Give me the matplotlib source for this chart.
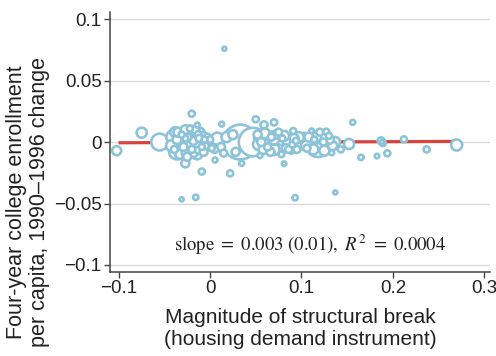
import matplotlib
matplotlib.use("Agg")
import matplotlib.pyplot as plt
import numpy as np

plt.rcParams["font.family"] = ["Liberation Sans", "DejaVu Sans"]
plt.rcParams["mathtext.fontset"] = "stix"

# metro areas: structural break magnitude, enrollment change, population weight
brk = [
    -0.102, -0.0747, -0.055, -0.040, -0.036, -0.020, -0.0139, -0.027, -0.009,
    0.022, 0.0055, 0.0346, 0.0128, 0.033, 0.047, 0.050, 0.059, 0.070, 0.0546,
    0.078, 0.081, 0.091, 0.089, -0.031, -0.0156, 0.093, 0.137, 0.0157, 0.111,
    0.118, 0.127, 0.1366, 0.152, 0.143, 0.133, 0.156, 0.187, 0.189, 0.188,
    0.212, 0.2696, 0.2368, 0.1938, 0.1825, 0.165,
    -0.030, -0.025, -0.020, -0.015, -0.010, -0.028, -0.022, -0.018, -0.012,
    -0.008, -0.033, -0.025, -0.016, -0.005, -0.003, -0.035, 0.002, 0.000,
    0.008, 0.005,
    0.055, 0.062, 0.068, 0.073, 0.078, 0.085, 0.092, 0.100, 0.105, 0.058,
    0.066, 0.075, 0.083, 0.095, 0.052,
    0.108, 0.113, 0.122, 0.128, 0.131,
    -0.042, -0.038, -0.032, -0.027, -0.023, -0.019, -0.014, -0.011, -0.007,
    -0.030, -0.021, -0.004, -0.017, -0.026,
    0.053, 0.060, 0.064, 0.070, 0.076, 0.081, 0.088, 0.097, 0.070,
    0.103, 0.110, 0.116, 0.125, 0.134, 0.120,
    0.012, 0.018, 0.015, 0.025, 0.028,
    -0.036, -0.029, -0.024, -0.018, -0.013, -0.009, -0.031, -0.020, -0.015,
    -0.006, -0.039, -0.027, -0.012, -0.022,
    0.056, 0.063, 0.072, 0.079, 0.086, 0.094, 0.067, 0.090,
    0.106, 0.114, 0.124, 0.130,
]
enroll = [
    -0.007, 0.0076, 0.000, 0.004, -0.0076, 0.023, 0.0138, -0.0173, -0.024,
    -0.0255, -0.0146, -0.0173, 0.0146, 0.000, 0.000, 0.0185, 0.014, 0.016, -0.011,
    -0.010, -0.0176, 0.009, -0.0065, -0.0466, -0.045, -0.0453, -0.041, 0.0759, 0.0092,
    -0.0025, 0.0084, 0.000, -0.0016, -0.006, -0.0087, 0.016, 0.001, -0.001, 0.000,
    0.0022, -0.0024, -0.006, -0.0092, -0.0114, -0.0125,
    0.005, 0.008, 0.006, 0.003, 0.000, -0.002, -0.004, -0.008, -0.006,
    0.005, -0.010, -0.012, 0.010, -0.003, 0.004, 0.008, -0.005, 0.002,
    0.0027, -0.006,
    0.003, -0.002, 0.004, -0.004, 0.002, 0.000, 0.003, 0.000, -0.003, -0.006,
    -0.008, 0.008, -0.005, -0.006, 0.006,
    0.004, -0.006, 0.003, -0.004, 0.002,
    -0.003, 0.008, 0.000, 0.010, 0.002, -0.002, -0.010, 0.008, -0.008,
    -0.007, 0.009, 0.000, 0.005, -0.009,
    -0.002, 0.007, 0.001, -0.006, -0.001, 0.005, -0.003, 0.004, 0.002,
    0.003, -0.001, 0.004, -0.007, -0.003, 0.008,
    -0.004, 0.004, -0.009, 0.006, -0.008,
    0.002, -0.004, 0.004, 0.001, 0.006, -0.004, 0.006, -0.006, -0.001,
    0.002, -0.006, 0.003, 0.003, 0.011,
    0.000, -0.004, 0.006, 0.003, -0.006, 0.001, 0.004, -0.002,
    -0.005, 0.002, 0.000, 0.005,
]
weight = [
    20, 25, 70, 50, 64, 9, 6, 16, 9,
    9, 6, 6, 6, 300, 200, 9, 12, 10, 6,
    8, 5, 9, 12, 4, 7, 7, 4, 4, 5,
    140, 9, 25, 25, 9, 6, 6, 12, 8, 4,
    9, 30, 9, 9, 5, 7,
    30, 25, 36, 30, 25, 36, 30, 25, 20,
    16, 20, 16, 16, 12, 12, 20, 9, 10,
    36, 12,
    36, 40, 30, 36, 30, 25, 20, 50, 25, 20,
    16, 12, 16, 12, 16,
    20, 25, 30, 25, 16,
    30, 25, 40, 20, 45, 40, 25, 20, 16,
    30, 25, 20, 36, 20,
    30, 25, 36, 30, 40, 25, 30, 25, 25,
    30, 36, 25, 25, 20, 12,
    16, 25, 12, 20, 16,
    20, 16, 12, 16, 12, 9, 9, 12, 16,
    9, 12, 9, 12, 9,
    16, 12, 16, 9, 12, 9, 12, 9,
    12, 9, 12, 9,
]

slope = 0.003
intercept = -0.0003
fit_range = [-0.1, 0.27]

xticks = [-0.1, 0, 0.1, 0.2, 0.3]
xticklabels = ["\u22120.1", "0", "0.1", "0.2", "0.3"]
yticks = [0.1, 0.05, 0, -0.05, -0.1]
yticklabels = ["0.1", "0.05", "0", "\u22120.05", "\u22120.1"]

blue = "#8dc3d8"
red = "#d9423d"
ink = "#222222"

fig = plt.figure(figsize=(4.96, 3.56), dpi=100)
ax = fig.add_axes([0.2218, 0.236, 0.766, 0.730])

x = np.array(brk)
y = np.array(enroll)
w = np.array(weight, dtype=float)
order = np.argsort(-w)

for t in yticks:
    ax.axhline(t, color="#d6d6d6", lw=0.9, zorder=0)

fx = np.array(fit_range)
ax.plot(fx, intercept + slope * fx, color=red, lw=2.3, zorder=1,
        solid_capstyle="butt")

ax.scatter(x[order], y[order], s=2.1 * w[order], facecolor="white",
           edgecolor=blue, linewidth=1.9, zorder=2)

ax.set_xlim(-0.1093, 0.306)
ax.set_ylim(-0.1057, 0.1057)
ax.set_xticks(xticks)
ax.set_xticklabels(xticklabels)
ax.set_yticks(yticks)
ax.set_yticklabels(yticklabels)

for side in ["top", "right"]:
    ax.spines[side].set_visible(False)
for side in ["left", "bottom"]:
    ax.spines[side].set_color("#444444")
    ax.spines[side].set_linewidth(1.1)
ax.tick_params(colors=ink, labelsize=13.5, length=4, width=1.0, pad=2)
ax.tick_params(axis="both", color="#444444")

ax.set_xlabel("Magnitude of structural break\n(housing demand instrument)",
              fontsize=15, color=ink, labelpad=8, linespacing=1.2)
ax.set_ylabel("Four-year college enrollment\nper capita, 1990\u20131996 change",
              fontsize=15.5, color=ink, linespacing=1.1, va="center")
ax.yaxis.set_label_coords(-0.216, 0.27)

ax.text(0.109, -0.084,
        r"$\mathrm{slope}\ =\ 0.003\ (0.01),\ R^2\ =\ 0.0004$",
        ha="center", va="center", fontsize=13.5, color=ink)

fig.savefig("out.png", dpi=100)
